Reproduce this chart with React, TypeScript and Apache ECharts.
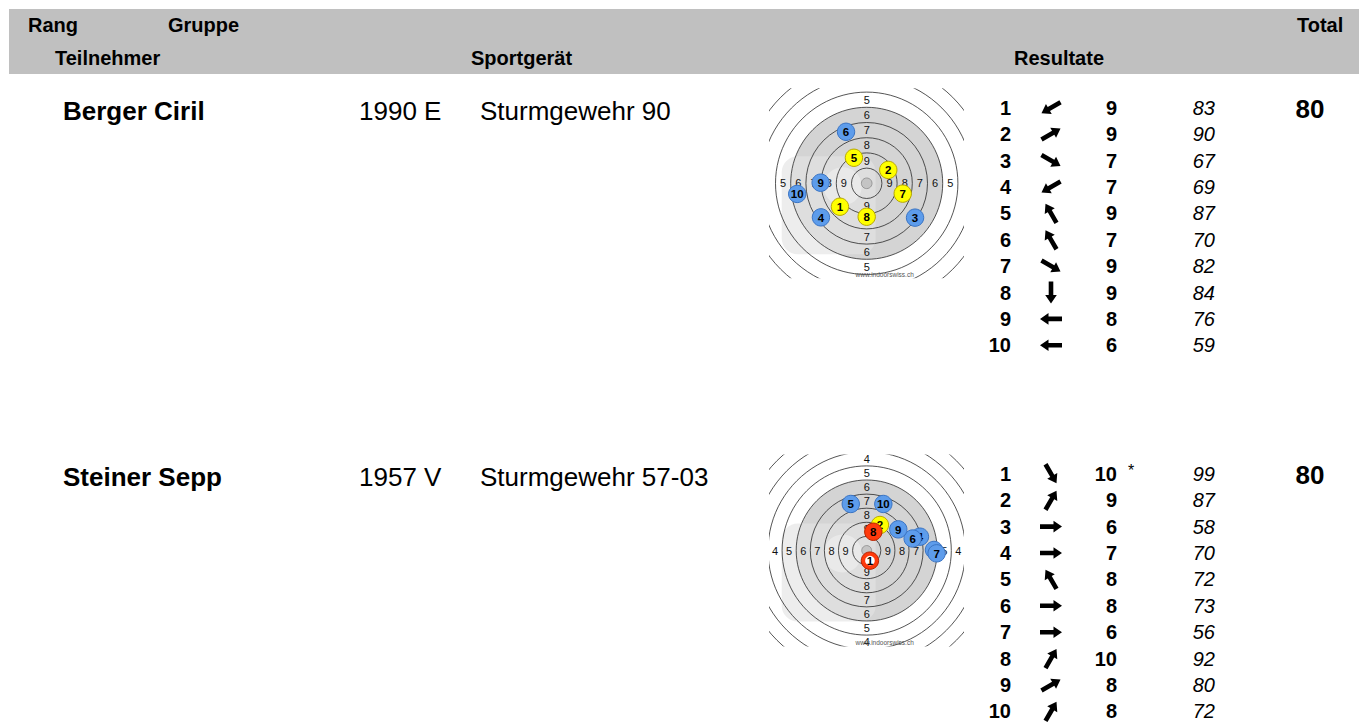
import React, { useEffect, useRef } from "react";
import * as echarts from "echarts";

// ---------- data ----------
const headerTopLabels = ["Rang", "Gruppe", "Total"];
const headerBottomLabels = ["Teilnehmer", "Sportgerät", "Resultate"];
const names = ["Berger Ciril", "Steiner Sepp"];
const yearClasses = ["1990 E", "1957 V"];
const rifles = ["Sturmgewehr 90", "Sturmgewehr 57-03"];
const shotNumbers = [1, 2, 3, 4, 5, 6, 7, 8, 9, 10];
const ringValues = [1, 2, 3, 4, 5, 6, 7, 8, 9, 10];
const targetUrl = "www.indoorswiss.ch";

// participant 1 (Berger Ciril)
const scoresA = [9, 9, 7, 7, 9, 7, 9, 9, 8, 6];
const valuesA = [83, 90, 67, 69, 87, 70, 82, 84, 76, 59];
const innerA = [false, false, false, false, false, false, false, false, false, false];
const shotXA = [-17.6, 14.2, 31.8, -30.1, -8.4, -13.6, 23.7, 0, -30.3, -45.7];
const shotYA = [-15.4, 8.8, -22.6, -22.4, 16.8, 33.9, -6.8, -22.0, 0.4, -7.0];

// participant 2 (Steiner Sepp)
const scoresB = [10, 9, 6, 7, 8, 8, 6, 10, 8, 8];
const valuesB = [99, 87, 58, 70, 72, 73, 56, 92, 80, 72];
const innerB = [true, false, false, false, false, false, false, false, false, false];
const shotXB = [2.3, 9.4, 47.7, 37.8, -11.3, 32.6, 49.6, 4.7, 22.4, 11.8];
const shotYB = [-7.2, 18.1, 0.4, 9.8, 33.0, 8.5, -2.0, 13.3, 15.0, 33.0];

const participants = [
  { scores: scoresA, values: valuesA, inner: innerA, xs: shotXA, ys: shotYA },
  { scores: scoresB, values: valuesB, inner: innerB, xs: shotXB, ys: shotYB },
];

// ---------- layout / style ----------
const FONT = '"Liberation Sans", Arial, Helvetica, sans-serif';
const rowCenterY = [110.5, 477];
const resultTopY = [107.7, 473.8];
const resultStep = 26.4;
const targetCenters = [
  [866.7, 183.3],
  [866.7, 550.5],
];
const targetPxPerUnit = [1.52, 1.41];
const targetHalf = [
  [97, 95],
  [97, 96],
];
const SHOT_R = 8.7;

function shotColor(score: number) {
  if (score >= 10) return { fill: "#ff3a0c", stroke: "#b82400" };
  if (score === 9) return { fill: "#ffff00", stroke: "#b8a800" };
  return { fill: "#5d9ceb", stroke: "#3a74c4" };
}

echarts.graphic.registerShape(
  "shotArrow",
  echarts.graphic.extendPath("M-11,-2.3 L2.5,-2.3 L2.5,-5.8 L11,0 L2.5,5.8 L2.5,2.3 L-11,2.3 Z", {})
);

function makeTargetRenderer(idx: number) {
  const pt = participants[idx];
  return function renderTarget(params: any, api: any) {
    const c = api.coord([0, 0]);
    const u = api.size([1, 1]) as number[];
    const ux = u[0];
    const box = params.coordSys;
    const shotPx = pt.xs.map((x, j) => api.coord([x, pt.ys[j]]));
    const children: any[] = [];
    children.push({
      type: "circle",
      shape: { cx: c[0], cy: c[1], r: 50 * ux },
      style: { fill: "#d4d4d4" },
    });
    // faint logo watermark
    children.push({
      type: "rect",
      shape: { x: c[0] - 85, y: c[1] - 27, width: 94, height: 98, r: 16 },
      style: { fill: "rgba(228,228,228,0.65)" },
    });
    children.push({
      type: "circle",
      shape: { cx: c[0] - 24, cy: c[1] + 3, r: 19 },
      style: { fill: "rgba(255,255,255,0.35)" },
    });
    ringValues.forEach((k) => {
      children.push({
        type: "circle",
        shape: { cx: c[0], cy: c[1], r: (11 - k) * 10 * ux },
        style: { fill: "none", stroke: "#2a2a2a", lineWidth: 0.8 },
      });
    });
    children.push({
      type: "circle",
      shape: { cx: c[0], cy: c[1], r: 3.5 * ux },
      style: { fill: "#c4c4c4", stroke: "#8a8a8a", lineWidth: 0.8 },
    });
    ringValues
      .filter((k) => k < 10)
      .forEach((k) => {
        const d = (10.5 - k) * 10 * ux;
        const pos = [
          [0, -d],
          [0, d],
          [-d, 0],
          [d, 0],
        ];
        pos.forEach((p) => {
          const lx = c[0] + p[0];
          const ly = c[1] + p[1];
          // labels outside the printed target area are not shown
          if (box && (lx < box.x || lx > box.x + box.width || ly < box.y || ly > box.y + box.height)) return;
          // a label completely under a shot hole is not visible
          const covered = shotPx.some((s: number[]) => Math.hypot(s[0] - lx, s[1] - ly) < SHOT_R - 2);
          if (covered) return;
          children.push({
            type: "text",
            x: lx,
            y: ly,
            style: {
              text: String(k),
              fontSize: 11,
              fontFamily: FONT,
              fill: "#111",
              align: "center",
              verticalAlign: "middle",
            },
          });
        });
      });
    children.push({
      type: "text",
      x: c[0] + 18,
      y: c[1] + 91.5,
      style: {
        text: targetUrl,
        fontSize: 6.5,
        fontFamily: FONT,
        fill: "#555",
        align: "center",
        verticalAlign: "middle",
      },
    });
    return { type: "group", children };
  };
}

function renderShot(params: any, api: any) {
  const p = api.coord([api.value(0), api.value(1)]);
  const num = api.value(2);
  const score = api.value(3);
  const inner = api.value(4);
  const col = shotColor(score);
  const children: any[] = [
    {
      type: "circle",
      shape: { cx: p[0], cy: p[1], r: SHOT_R },
      style: { fill: col.fill, stroke: col.stroke, lineWidth: 1 },
    },
  ];
  if (inner) {
    children.push({
      type: "circle",
      shape: { cx: p[0], cy: p[1], r: 4.8 },
      style: { fill: "#ffffff" },
    });
  }
  children.push({
    type: "text",
    x: p[0],
    y: p[1] + 0.5,
    style: {
      text: String(num),
      fontSize: 11.5,
      fontWeight: "bold",
      fontFamily: FONT,
      fill: "#000",
      align: "center",
      verticalAlign: "middle",
    },
  });
  return { type: "group", children };
}

function txt(text: string, x: number, y: number, size: number, opts: any = {}) {
  return {
    type: "text",
    x,
    y,
    silent: true,
    style: {
      text,
      fontSize: size,
      fontFamily: FONT,
      fontWeight: opts.bold ? "bold" : "normal",
      fontStyle: opts.italic ? "italic" : "normal",
      fill: opts.fill || "#000",
      align: opts.align || "left",
      verticalAlign: "middle",
    },
  };
}

function buildOption() {
  const graphics: any[] = [];
  graphics.push({
    type: "rect",
    shape: { x: 9, y: 9, width: 1350, height: 65 },
    style: { fill: "#c0c0c0" },
    silent: true,
  });
  const topX = [28, 168, 1297];
  headerTopLabels.forEach((t, i) => graphics.push(txt(t, topX[i], 25, 20, { bold: true })));
  const botX = [55, 471, 1014];
  headerBottomLabels.forEach((t, i) => graphics.push(txt(t, botX[i], 58, 20, { bold: true })));

  participants.forEach((pt, i) => {
    const y = rowCenterY[i];
    graphics.push(txt(names[i], 63, y, 26, { bold: true }));
    graphics.push(txt(yearClasses[i], 359, y, 26));
    graphics.push(txt(rifles[i], 480, y, 26));
    const total = pt.scores.reduce((a, b) => a + b, 0);
    graphics.push(txt(String(total), 1310, y - 2, 26, { bold: true, align: "center" }));
    shotNumbers.forEach((n, j) => {
      const ry = resultTopY[i] + j * resultStep;
      graphics.push(txt(String(n), 1011, ry, 20, { bold: true, align: "right" }));
      const ang = Math.atan2(pt.ys[j], pt.xs[j]);
      const q = Math.round(ang / (Math.PI / 6)) * (Math.PI / 6);
      graphics.push({
        type: "shotArrow",
        x: 1051,
        y: ry,
        rotation: q,
        silent: true,
        style: { fill: "#000" },
      });
      graphics.push(txt(String(pt.scores[j]), 1117, ry, 20, { bold: true, align: "right" }));
      if (pt.inner[j]) graphics.push(txt("*", 1128, ry - 3, 16));
      graphics.push(txt(String(pt.values[j]), 1215, ry, 20, { italic: true, align: "right" }));
    });
  });

  const grids = targetCenters.map((c, i) => ({
    left: c[0] - targetHalf[i][0],
    top: c[1] - targetHalf[i][1],
    width: targetHalf[i][0] * 2,
    height: targetHalf[i][1] * 2,
    containLabel: false,
  }));
  const xAxes = targetCenters.map((c, i) => ({
    type: "value",
    gridIndex: i,
    min: -targetHalf[i][0] / targetPxPerUnit[i],
    max: targetHalf[i][0] / targetPxPerUnit[i],
    show: false,
  }));
  const yAxes = targetCenters.map((c, i) => ({
    type: "value",
    gridIndex: i,
    min: -targetHalf[i][1] / targetPxPerUnit[i],
    max: targetHalf[i][1] / targetPxPerUnit[i],
    show: false,
  }));
  const series: any[] = [];
  participants.forEach((pt, i) => {
    series.push({
      type: "custom",
      xAxisIndex: i,
      yAxisIndex: i,
      clip: true,
      silent: true,
      z: 1,
      data: [[0, 0]],
      renderItem: makeTargetRenderer(i),
    });
    series.push({
      type: "custom",
      xAxisIndex: i,
      yAxisIndex: i,
      clip: false,
      silent: true,
      z: 3,
      encode: { x: 0, y: 1 },
      data: shotNumbers.map((n, j) => [pt.xs[j], pt.ys[j], n, pt.scores[j], pt.inner[j] ? 1 : 0]),
      renderItem: renderShot,
    });
  });

  return {
    animation: false,
    backgroundColor: "#ffffff",
    textStyle: { fontFamily: FONT },
    grid: grids,
    xAxis: xAxes,
    yAxis: yAxes,
    graphic: { elements: graphics },
    series,
  };
}

export default function App() {
  const ref = useRef<HTMLDivElement>(null);
  useEffect(() => {
    if (!ref.current) return;
    const chart = echarts.init(ref.current, undefined, { renderer: "svg" });
    chart.setOption(buildOption() as any);
    return () => chart.dispose();
  }, []);
  return (
    <div
      ref={ref}
      style={{ position: "fixed", left: 0, top: 0, width: 1359, height: 723, background: "#fff" }}
    />
  );
}
